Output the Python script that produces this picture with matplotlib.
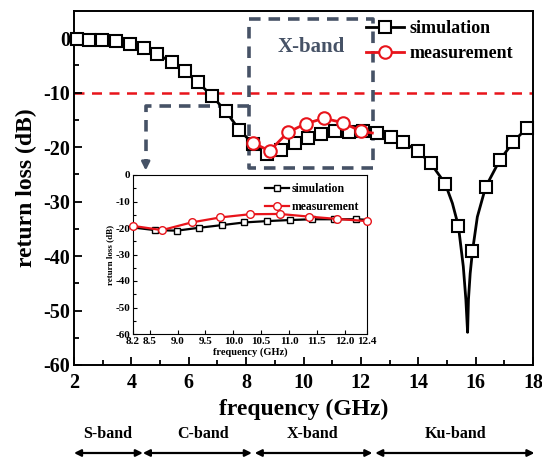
import matplotlib
matplotlib.use("Agg")
import matplotlib.pyplot as plt
import matplotlib.transforms as mtransforms
import numpy as np

plt.rcParams['font.family'] = ['Liberation Serif', 'DejaVu Serif']
plt.rcParams['font.weight'] = 'bold'
plt.rcParams['axes.labelweight'] = 'bold'
plt.rcParams['axes.unicode_minus'] = False

# ---- main simulation (marker points) ----
sim_freq = [2.11, 2.53, 2.98, 3.46, 3.95, 4.43, 4.90, 5.40, 5.86, 6.32, 6.81, 7.29,
            7.76, 8.24, 8.72, 9.20, 9.69, 10.15, 10.62, 11.10, 11.58, 12.06, 12.55,
            13.04, 13.48, 13.98, 14.44, 14.94, 15.40, 15.89, 16.35, 16.84, 17.32, 17.78]
sim_loss = [-0.05, -0.24, -0.37, -0.6, -1.1, -1.8, -2.9, -4.4, -6.1, -8.1, -10.6, -13.4,
            -16.8, -19.4, -21.3, -20.5, -19.3, -18.3, -17.5, -17.0, -17.2, -17.1, -17.4,
            -18.1, -19.1, -20.7, -23.0, -26.7, -34.5, -39.1, -27.3, -22.4, -19.0, -16.5]
# extra curve points around the resonance (no markers)
dip_freq = [15.19, 15.57, 15.66, 15.72, 15.75, 15.81, 16.06]
dip_loss = [-30.3, -41.9, -48.0, -54.0, -48.0, -43.2, -32.8]

# ---- main measurement ----
meas_freq = [8.24, 8.82, 9.45, 10.07, 10.71, 11.37, 12.01]
meas_loss = [-19.2, -20.7, -17.3, -15.7, -14.7, -15.5, -17.1]
meas_end_freq = [12.4]
meas_end_loss = [-17.4]

# ---- inset data ----
in_sim_freq = [8.59, 8.99, 9.39, 9.80, 10.20, 10.60, 11.01, 11.41, 11.80, 12.21]
in_sim_loss = [-20.8, -21.0, -19.9, -18.9, -17.9, -17.4, -17.0, -16.7, -16.7, -16.7]
in_sim_ends_freq = [8.2, 12.4]
in_sim_ends_loss = [-19.8, -16.9]
in_meas_freq = [8.2, 8.72, 9.25, 9.77, 10.30, 10.83, 11.36, 11.87, 12.4]
in_meas_loss = [-19.2, -20.8, -17.9, -16.0, -14.8, -14.7, -15.7, -16.6, -17.4]

main_xticks = [2, 4, 6, 8, 10, 12, 14, 16, 18]
main_yticks = [0, -10, -20, -30, -40, -50, -60]
inset_xticks = [8.2, 8.5, 9.0, 9.5, 10.0, 10.5, 11.0, 11.5, 12.0, 12.4]
inset_xticklabels = ['8.2', '8.5', '9.0', '9.5', '10.0', '10.5', '11.0', '11.5', '12.0', '12.4']
inset_yticks = [0, -10, -20, -30, -40, -50, -60]

bands = ['S-band', 'C-band', 'X-band', 'Ku-band']
band_start = [2.0, 4.4, 8.3, 12.5]
band_end = [4.4, 8.2, 12.4, 18.05]
band_label_x = [3.18, 6.5, 10.3, 15.3]

W, H = 542, 459
fig = plt.figure(figsize=(W / 100, H / 100), dpi=100)
ax = fig.add_axes([74 / W, 1 - 365 / H, (533 - 74) / W, (365 - 11) / H])

# merged simulation curve
f_all = np.array(sim_freq + dip_freq)
l_all = np.array(sim_loss + dip_loss)
order = np.argsort(f_all)
f_all = f_all[order]
l_all = l_all[order]
mark_idx = [i for i, k in enumerate(order) if k < len(sim_freq)]

red = '#e8141b'
ax.axhline(-10, color=red, lw=1.8, ls=(0, (4, 3)), zorder=1)

ax.plot(f_all, l_all, color='black', lw=2.0, marker='s', markevery=mark_idx,
        markersize=8, markerfacecolor='white', markeredgecolor='black',
        markeredgewidth=1.5, label='simulation', zorder=3, clip_on=False)
mf = meas_freq + meas_end_freq
ml = meas_loss + meas_end_loss
ax.plot(mf, ml, color=red, lw=2.0, marker='o', markevery=list(range(len(meas_freq))),
        markersize=9, markerfacecolor='white', markeredgecolor=red,
        markeredgewidth=1.5, label='measurement', zorder=4)

ax.set_xlim(2, 18)
ax.set_ylim(-60, 5)
ax.set_xticks(main_xticks)
ax.set_yticks(main_yticks)
ax.set_xticks(np.arange(3, 18, 2), minor=True)
ax.set_yticks(np.arange(-55, 5, 10), minor=True)
ax.tick_params(which='both', direction='in', width=1.3, labelsize=14.5)
ax.tick_params(which='major', length=6, pad=6)
ax.tick_params(which='minor', length=3.5)
ax.tick_params(axis='y', which='major', pad=3)
for s in ax.spines.values():
    s.set_linewidth(1.4)
ax.set_xlabel('frequency (GHz)', fontsize=17, labelpad=4)
ax.set_ylabel('return loss (dB)', fontsize=17, labelpad=4)

leg = ax.legend(loc='upper left', bbox_to_anchor=(0.62, 0.995), frameon=False,
                fontsize=13, handlelength=2.1, handletextpad=0.3, labelspacing=0.45,
                borderaxespad=0)

# X-band dashed box
slate = '#465266'
ax.plot([8.09, 12.43, 12.43, 8.09, 8.09], [3.5, 3.5, -23.9, -23.9, 3.5],
        color=slate, lw=2.6, ls=(0, (3.2, 2.2)), zorder=2)
ax.text(10.26, -1.7, 'X-band', color=slate, fontsize=15, ha='center', va='center')
# dashed connector and arrow to inset
ax.plot([8.09, 4.5, 4.5], [-12.5, -12.5, -23.0], color=slate, lw=2.6,
        ls=(0, (3.2, 2.2)), zorder=2)
ax.annotate('', xy=(4.5, -24.8), xytext=(4.5, -22.6),
            arrowprops=dict(arrowstyle='-|>', color=slate, lw=2.0, mutation_scale=12))

# band arrows below the axis
trans = mtransforms.blended_transform_factory(ax.transData, fig.transFigure)
for name, a, b, lx in zip(bands, band_start, band_end, band_label_x):
    ax.annotate('', xy=(b, 1 - 453 / H), xytext=(a, 1 - 453 / H), xycoords=trans,
                textcoords=trans, annotation_clip=False,
                arrowprops=dict(arrowstyle='<|-|>', color='black', lw=1.6,
                                mutation_scale=10, shrinkA=0, shrinkB=0))
    ax.text(lx, 1 - 434 / H, name, transform=trans, ha='center', va='center',
            fontsize=11.5)

# ---- inset ----
axi = fig.add_axes([133 / W, 1 - 334 / H, (367 - 133) / W, (334 - 175) / H])
axi.plot(in_sim_ends_freq[:1] + in_sim_freq + in_sim_ends_freq[1:],
         in_sim_ends_loss[:1] + in_sim_loss + in_sim_ends_loss[1:],
         color='black', lw=1.6, marker='s', markevery=list(range(1, len(in_sim_freq) + 1)),
         markersize=4.5, markerfacecolor='white', markeredgecolor='black',
         markeredgewidth=1.0, label='simulation', zorder=3)
axi.plot(in_meas_freq, in_meas_loss, color=red, lw=1.6, marker='o', markersize=5.5,
         markerfacecolor='white', markeredgecolor=red, markeredgewidth=1.0,
         label='measurement', zorder=4, clip_on=False)
axi.set_xlim(8.2, 12.4)
axi.set_ylim(-60, 0)
axi.set_xticks(inset_xticks)
axi.set_xticklabels(inset_xticklabels)
axi.set_yticks(inset_yticks)
axi.set_yticks(np.arange(-55, 0, 10), minor=True)
axi.tick_params(which='both', direction='in', width=0.8, labelsize=8, pad=2)
axi.tick_params(which='major', length=3)
axi.tick_params(which='minor', length=2)
for s in axi.spines.values():
    s.set_linewidth(0.8)
axi.set_xlabel('frequency (GHz)', fontsize=7.5, labelpad=1)
axi.set_ylabel('return loss (dB)', fontsize=6.5, labelpad=1)
axi.legend(loc='upper right', frameon=False, fontsize=8.5, handlelength=2.0,
           handletextpad=0.2, labelspacing=0.5, borderaxespad=0.3)

fig.savefig('out.png', dpi=100)
